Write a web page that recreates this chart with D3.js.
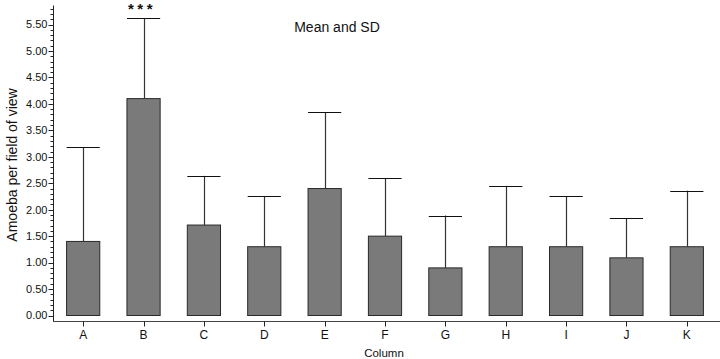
<!DOCTYPE html>
<html><head><meta charset="utf-8">
<script src="https://cdn.jsdelivr.net/npm/d3@7"></script>
<style>body{margin:0;background:#fff}svg{display:block}text{font-family:"Liberation Sans",Arial,sans-serif}</style>
</head><body>
<svg id="c" width="720" height="359"></svg>
<script>
const categories = ["A","B","C","D","E","F","G","H","I","J","K"];
const means = [1.40, 4.10, 1.71, 1.30, 2.40, 1.50, 0.90, 1.30, 1.30, 1.09, 1.30];
const sds   = [1.78, 1.52, 0.93, 0.96, 1.44, 1.09, 0.99, 1.15, 0.96, 0.75, 1.06];
const yTicks = [0,0.5,1,1.5,2,2.5,3,3.5,4,4.5,5,5.5];
const annotations = [{cat:"B", text:"***"}];

const svg = d3.select("#c");
const x = d3.scaleBand().domain(categories).range([53, 717]).paddingInner(0.45).paddingOuter(0.225);
const y = d3.scaleLinear().domain([0, 5.86]).range([315.5, 5.5]);

// y axis
const yAxisG = svg.append("g").attr("transform","translate(53.5,0)");
yAxisG.append("line").attr("x1",0).attr("x2",0).attr("y1",y(5.86)).attr("y2",322).attr("stroke","#222");
const minor = d3.range(0, 59).map(i => i/10).filter(v => Math.abs(v*2 - Math.round(v*2)) > 1e-6);
yAxisG.selectAll(".mn").data(minor).enter().append("line")
  .attr("x1",-3).attr("x2",0).attr("y1",d=>Math.round(y(d))+0.5).attr("y2",d=>Math.round(y(d))+0.5).attr("stroke","#222");
yAxisG.selectAll(".mj").data(yTicks).enter().append("line")
  .attr("x1",-5).attr("x2",0).attr("y1",d=>Math.round(y(d))+0.5).attr("y2",d=>Math.round(y(d))+0.5).attr("stroke","#222");
yAxisG.selectAll(".lb").data(yTicks).enter().append("text")
  .attr("x",-6).attr("y",d=>y(d)).attr("dy","0.35em").attr("text-anchor","end")
  .attr("font-size",11).attr("fill","#111").text(d=>d3.format(".2f")(d));

// x axis
const xAxisG = svg.append("g").attr("transform","translate(0,321.5)");
xAxisG.append("line").attr("x1",53).attr("x2",720).attr("y1",0).attr("y2",0).attr("stroke","#444");
xAxisG.selectAll(".t").data(categories).enter().append("line")
  .attr("x1",d=>Math.round(x(d)+x.bandwidth()/2)+0.5).attr("x2",d=>Math.round(x(d)+x.bandwidth()/2)+0.5)
  .attr("y1",0).attr("y2",5).attr("stroke","#222");
xAxisG.selectAll(".l").data(categories).enter().append("text")
  .attr("x",d=>x(d)+x.bandwidth()/2).attr("y",17).attr("text-anchor","middle")
  .attr("font-size",12).attr("fill","#111").text(d=>d);

// bars
const data = categories.map((c,i)=>({c, m:means[i], s:sds[i]}));
svg.selectAll(".bar").data(data).enter().append("rect")
  .attr("x",d=>x(d.c)).attr("width",x.bandwidth())
  .attr("y",d=>y(d.m)).attr("height",d=>y(0)-y(d.m))
  .attr("fill","#7a7a7a").attr("stroke","#2a2a2a").attr("stroke-width",1);

// error bars
svg.selectAll(".ev").data(data).enter().append("line")
  .attr("x1",d=>Math.round(x(d.c)+x.bandwidth()/2)+0.5).attr("x2",d=>Math.round(x(d.c)+x.bandwidth()/2)+0.5)
  .attr("y1",d=>y(d.m)).attr("y2",d=>y(d.m+d.s)).attr("stroke","#333").attr("stroke-width",1.2);
svg.selectAll(".ec").data(data).enter().append("line")
  .attr("x1",d=>x(d.c)).attr("x2",d=>x(d.c)+x.bandwidth())
  .attr("y1",d=>Math.round(y(d.m+d.s))+0.5).attr("y2",d=>Math.round(y(d.m+d.s))+0.5).attr("stroke","#111").attr("stroke-width",1.2);

// annotations
svg.selectAll(".an").data(annotations).enter().append("text")
  .attr("x",d=>x(d.cat)+x.bandwidth()/2-1.5).attr("y",14).attr("text-anchor","middle")
  .attr("font-size",15).attr("font-weight","bold").attr("letter-spacing",3.5).attr("fill","#111").text(d=>d.text);

// titles
svg.append("text").attr("x",337).attr("y",32).attr("text-anchor","middle").attr("font-size",14).attr("fill","#111").text("Mean and SD");
svg.append("text").attr("x",384).attr("y",357).attr("text-anchor","middle").attr("font-size",11.5).attr("fill","#111").text("Column");
svg.append("text").attr("transform","translate(17,165) rotate(-90)").attr("text-anchor","middle").attr("font-size",14).attr("fill","#111").text("Amoeba per field of view");
</script>
</body></html>
